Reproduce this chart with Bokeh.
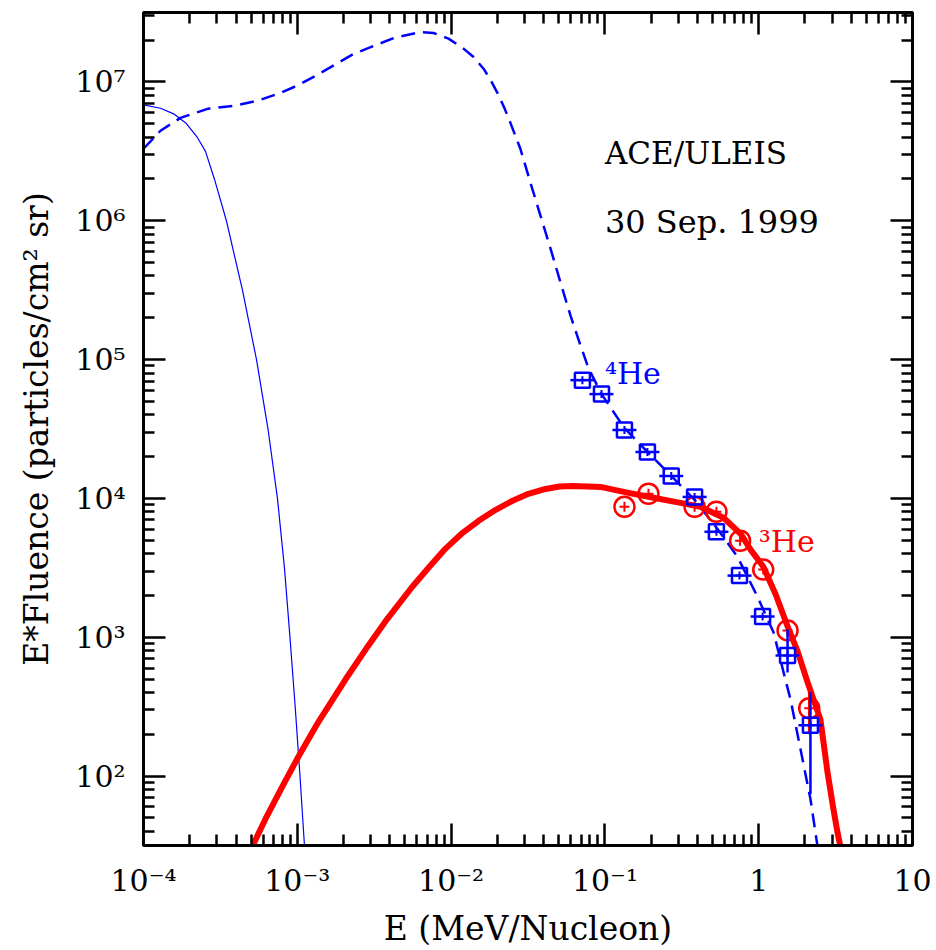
from bokeh.plotting import figure
from bokeh.models import FixedTicker, LogAxis, CustomJSTickFormatter, Label
from bokeh.embed import file_html
from bokeh.resources import INLINE

# ---- axis ticks ----
x_ticks = [1e-4, 1e-3, 1e-2, 1e-1, 1.0, 10.0]
x_tick_labels = ["10⁻⁴", "10⁻³", "10⁻²", "10⁻¹", "1", "10"]
y_ticks = [1e2, 1e3, 1e4, 1e5, 1e6, 1e7]
y_tick_labels = ["10²", "10³", "10⁴", "10⁵", "10⁶", "10⁷"]

# ---- thin solid blue curve (solar-wind like component) ----
sw_E = [1.00e-4, 1.29e-4, 1.57e-4, 1.90e-4, 2.24e-4, 2.53e-4, 2.89e-4, 3.46e-4,
        4.40e-4, 5.43e-4, 6.45e-4, 7.43e-4, 8.25e-4, 8.96e-4, 9.69e-4, 1.041e-3,
        1.113e-3]
sw_F = [6.84e6, 6.46e6, 5.89e6, 5.01e6, 3.98e6, 3.16e6, 2.00e6, 1.00e6,
        3.16e5, 1.00e5, 3.16e4, 1.00e4, 3160, 1000, 316, 100,
        31.6]

# ---- dashed blue curve (4He fit) ----
he4_fit_E = [1.00e-4, 1.29e-4, 1.74e-4, 2.61e-4, 3.85e-4, 5.51e-4, 7.78e-4, 1.02e-3,
             1.42e-3, 2.32e-3, 4.23e-3, 6.32e-3, 7.69e-3, 9.62e-3, 1.21e-2, 1.40e-2,
             1.63e-2, 1.80e-2, 2.00e-2, 2.22e-2, 2.43e-2, 2.82e-2, 3.28e-2, 3.81e-2,
             4.43e-2, 5.14e-2, 5.97e-2, 6.93e-2, 7.82e-2, 9.51e-2, 0.134, 0.189,
             0.271, 0.383, 0.532, 0.728, 0.982, 1.25, 1.49, 1.61,
             1.87, 2.17, 2.41]
he4_fit_F = [3.30e6, 4.45e6, 5.51e6, 6.40e6, 6.73e6, 7.31e6, 8.34e6, 9.51e6,
             1.16e7, 1.59e7, 2.07e7, 2.29e7, 2.25e7, 2.05e7, 1.73e7, 1.51e7,
             1.24e7, 1.04e7, 8.34e6, 6.50e6, 5.07e6, 3.30e6, 1.88e6, 1.09e6,
             6.31e5, 3.60e5, 2.08e5, 1.27e5, 8.67e4, 5.64e4, 3.21e4, 2.16e4,
             1.45e4, 9.77e3, 6.15e3, 3.80e3, 1.96e3, 1.08e3, 498, 357,
             156, 68.4, 31.4]

# ---- thick red curve (3He fit) ----
he3_fit_E = [5.19e-4, 6.21e-4, 8.02e-4, 1.02e-3, 1.37e-3, 2.06e-3, 2.90e-3, 3.74e-3,
             5.61e-3, 7.13e-3, 9.20e-3, 1.17e-2, 1.51e-2, 1.95e-2, 2.51e-2, 3.18e-2,
             4.11e-2, 5.07e-2, 6.25e-2, 9.35e-2, 0.140, 0.207, 0.310, 0.419,
             0.590, 0.762, 0.885, 1.07, 1.29, 1.54, 1.79, 2.07,
             2.52, 2.80, 3.06, 3.25, 3.40]
he3_fit_F = [32.4, 49.1, 84.7, 139, 245, 498, 873, 1300,
             2320, 3170, 4350, 5570, 6900, 8280, 9620, 10800,
             11700, 12200, 12300, 12100, 11000, 10100, 9290, 8710,
             7260, 5570, 4280, 3230, 2030, 1200, 791, 481,
             256, 107, 58, 39.6, 30.9]

# ---- measured points ----
he4_E = [0.0714, 0.095, 0.134, 0.189, 0.270, 0.383, 0.531, 0.750, 1.06, 1.54, 2.17]
he4_F = [71100, 56400, 31100, 21600, 14500, 10250, 5750, 2780, 1410, 740, 232]
he4_err_E = [1.54, 2.17]
he4_err_lo = [558, 74]
he4_err_hi = [1140, 401]

he3_E = [0.134, 0.192, 0.383, 0.531, 0.757, 1.07, 1.54, 2.13]
he3_F = [8700, 10800, 8700, 8010, 4960, 3070, 1120, 308]
he3_err_E = [2.13]
he3_err_lo = [200]
he3_err_hi = [473]

FONT = "DejaVu Serif"
BLUE = "#0000ff"
RED = "#ff0000"

p = figure(width=936, height=950, x_axis_type="log", y_axis_type="log",
           x_range=(1e-4, 10), y_range=(10 ** 1.5, 10 ** 7.5),
           output_backend="svg", toolbar_location=None,
           min_border_left=143, min_border_right=24,
           min_border_top=12, min_border_bottom=103)
p.background_fill_color = "white"
p.border_fill_color = "white"
p.grid.visible = False
p.outline_line_color = "black"
p.outline_line_width = 3

x_minor = [m * 10.0 ** k for k in range(-4, 1) for m in range(2, 10)]
y_minor = [m * 10.0 ** k for k in range(1, 8) for m in range(2, 10)
           if 10 ** 1.5 <= m * 10.0 ** k <= 10 ** 7.5]

fmt_code = """
for (let i = 0; i < vals.length; i++) {
  if (Math.abs(Math.log10(vals[i]) - Math.log10(tick)) < 1e-6) return labs[i];
}
return "";
"""
xfmt = CustomJSTickFormatter(args=dict(vals=x_ticks, labs=x_tick_labels), code=fmt_code)
yfmt = CustomJSTickFormatter(args=dict(vals=y_ticks, labs=y_tick_labels), code=fmt_code)


def style(ax):
    ax.major_tick_in = 22
    ax.major_tick_out = 0
    ax.minor_tick_in = 11
    ax.minor_tick_out = 0
    ax.major_tick_line_width = 2.5
    ax.minor_tick_line_width = 2.5
    ax.major_tick_line_color = "black"
    ax.minor_tick_line_color = "black"
    ax.axis_line_width = 3
    ax.axis_line_color = "black"
    ax.major_label_text_font = FONT
    ax.major_label_text_font_size = "30px"
    ax.major_label_text_color = "black"
    ax.axis_label_text_font = FONT
    ax.axis_label_text_font_style = "normal"
    ax.axis_label_text_font_size = "33px"
    ax.axis_label_text_color = "black"


xa = p.xaxis[0]
xa.ticker = FixedTicker(ticks=x_ticks, minor_ticks=x_minor)
xa.formatter = xfmt
style(xa)
xa.major_label_standoff = 17
xa.axis_label = "E (MeV/Nucleon)"
xa.axis_label_standoff = 8

ya = p.yaxis[0]
ya.ticker = FixedTicker(ticks=y_ticks, minor_ticks=y_minor)
ya.formatter = yfmt
style(ya)
ya.major_label_standoff = 18
ya.major_label_orientation = "horizontal"
ya.axis_label = "E*Fluence (particles/cm² sr)"
ya.axis_label_standoff = 16

blank = "return '';"
top = LogAxis(ticker=FixedTicker(ticks=x_ticks, minor_ticks=x_minor),
              formatter=CustomJSTickFormatter(code=blank))
right = LogAxis(ticker=FixedTicker(ticks=y_ticks, minor_ticks=y_minor),
                formatter=CustomJSTickFormatter(code=blank))
for ax in (top, right):
    style(ax)
    ax.major_label_text_font_size = "0px"
    ax.major_label_standoff = 0
p.add_layout(top, "above")
p.add_layout(right, "right")

# ---- curves ----
p.line(sw_E, sw_F, line_color=BLUE, line_width=1.2, line_join="round")
p.line(he4_fit_E, he4_fit_F, line_color=BLUE, line_width=2.5, line_dash="14 8",
       line_join="round")
p.line(he3_fit_E, he3_fit_F, line_color=RED, line_width=6, line_join="round")

# ---- 3He points ----
p.segment(x0=he3_err_E, y0=he3_err_lo, x1=he3_err_E, y1=he3_err_hi,
          line_color=RED, line_width=2.5)
p.scatter(he3_E, he3_F, marker="circle", size=20, fill_color=None,
          line_color=RED, line_width=2.5)
p.scatter(he3_E, he3_F, marker="cross", size=10, line_color=RED, line_width=2)

# ---- 4He points ----
p.segment(x0=he4_err_E, y0=he4_err_lo, x1=he4_err_E, y1=he4_err_hi,
          line_color=BLUE, line_width=2.5)
p.scatter(he4_E, he4_F, marker="square", size=15, fill_color=None,
          line_color=BLUE, line_width=2.5)
p.scatter(he4_E, he4_F, marker="dash", size=24, line_color=BLUE, line_width=2.5)
p.scatter(he4_E, he4_F, marker="cross", size=8, line_color=BLUE, line_width=2)

# ---- annotations ----
p.add_layout(Label(x=0.1, y=3.09e6, text="ACE/ULEIS", text_font=FONT,
                   text_font_size="31px", text_color="black",
                   text_baseline="alphabetic"))
p.add_layout(Label(x=0.1, y=9.86e5, text="30 Sep. 1999", text_font=FONT,
                   text_font_size="32px", text_color="black",
                   text_baseline="alphabetic"))
p.add_layout(Label(x=0.1, y=7.98e4, text="⁴He", text_font=FONT,
                   text_font_size="30px", text_color=BLUE,
                   text_baseline="alphabetic"))
p.add_layout(Label(x=1.0, y=4.88e3, text="³He", text_font=FONT,
                   text_font_size="30px", text_color=RED,
                   text_baseline="alphabetic"))

open("out.html", "w").write(file_html(p, INLINE))
